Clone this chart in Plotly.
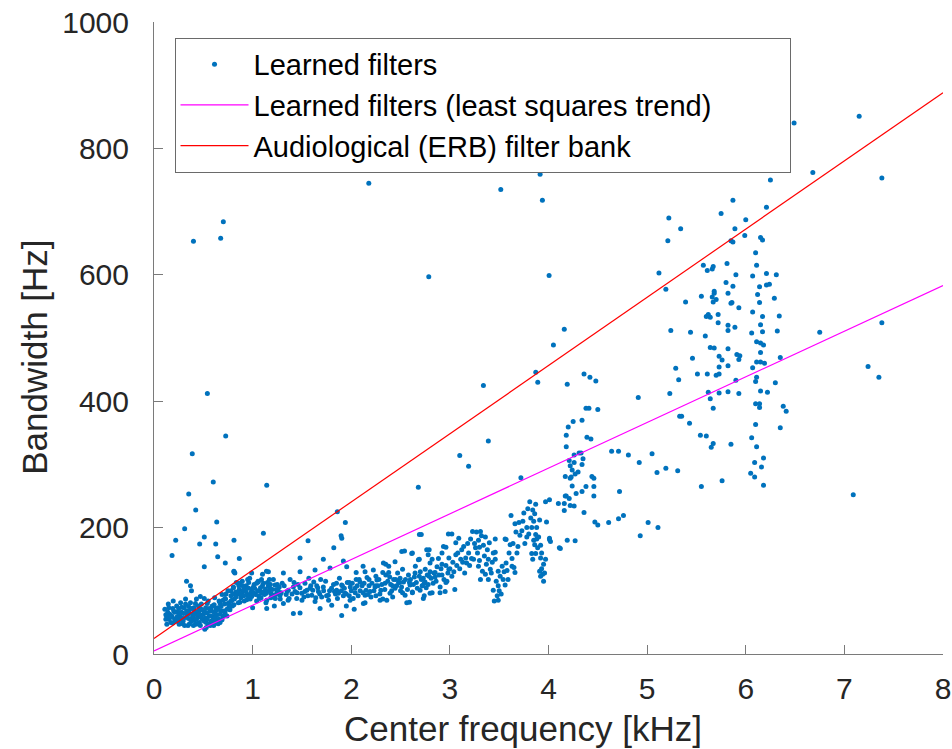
import plotly.graph_objects as go

# ---------------- data (center frequency in kHz, bandwidth in Hz) ----------------
band_low = [
    (0.11,71),(0.12,55),(0.13,47),(0.145,79),(0.16,63),(0.17,50),(0.195,84),(0.20,68),(0.21,55),(0.23,76),
    (0.245,60),(0.255,47),(0.27,81),(0.28,66),(0.295,52),(0.305,73),(0.32,87),(0.33,58),(0.345,45),(0.355,68),
    (0.37,81),(0.38,52),(0.395,63),(0.405,73),(0.425,47),(0.43,87),(0.445,58),(0.455,68),(0.47,45),(0.48,79),
    (0.49,55),(0.50,63),(0.515,39),(0.525,73),(0.53,50),(0.55,84),(0.56,60),(0.57,68),(0.58,52),(0.59,76),
    (0.605,45),(0.615,89),(0.625,63),(0.63,55),(0.65,73),(0.66,84),(0.67,50),(0.68,68),(0.69,94),(0.70,60),
    (0.715,79),(0.725,87),(0.74,71),(0.75,100),(0.765,81),(0.78,92),(0.795,76),(0.805,105),(0.815,87),(0.835,113),
    (0.84,94),(0.855,81),(0.865,102),(0.88,89),(0.895,115),(0.905,100),(0.915,84),(0.935,108),(0.945,94),(0.96,113),
    (0.975,87),(0.99,102),(1.00,73),(1.015,110),(1.03,94),(1.04,84),(1.055,115),(1.07,100),(1.085,89),(1.10,108),
    (1.12,94),(1.135,81),(1.15,113),(1.17,100),(1.185,89),(1.20,102),(1.22,76),(1.235,94),(1.25,110),(1.26,100),
    (0.33,115),(0.37,108),(0.38,100),(0.47,91),(0.51,88),(0.81,131),(0.82,128),(1.10,126),(1.14,131),(1.17,118),
    (0.87,82),(0.34,62),(0.36,48),(0.39,58),(0.41,53),(0.44,62),(0.46,50),(0.52,57),(0.54,65),(0.57,45),
    (0.60,58),(0.62,49),(0.64,62),(0.66,55),(0.47,72),(0.43,66),(0.40,45),(0.53,42),(0.58,70),(0.63,72),
    (0.35,75),(0.25,72),(0.18,60),(0.14,66),(0.22,52),(0.27,58),(0.30,64),(0.12,62),(0.19,72),(0.15,55),
    (0.24,67),(0.29,48),(0.32,79),(0.42,80),(0.45,76),(0.54,80),(0.61,78),(0.67,80),(0.72,65),(0.76,74),
    (0.70,85),(0.73,95),(0.78,100),(0.79,85),(0.83,98),(0.86,108),(0.89,96),(0.92,104),(0.95,118),(0.98,97),
    (1.02,104),(1.06,92),(1.09,118),(1.13,103),(1.16,108),(1.19,95),(1.23,88),(1.27,106),
]

band_mid = [
    (0.805,106),(0.855,112),(0.906,101),(0.957,91),(1.008,106),(1.058,114),(1.092,96),(1.143,85),(1.176,104),(1.227,109),
    (1.278,93),(1.312,80),(1.362,101),(1.413,106),(1.447,88),(1.498,96),(1.531,112),(1.582,104),(1.633,83),(1.667,99),
    (1.717,106),(1.768,93),(1.802,77),(1.852,101),(1.903,109),(1.937,96),(1.988,85),(2.038,104),(2.089,114),(2.14,93),
    (2.191,99),(2.241,106),(2.292,85),(2.343,112),(2.393,96),(2.444,104),(2.495,120),(2.546,93),(2.596,109),(2.647,128),
    (2.698,101),(2.748,114),(2.799,96),(2.85,122),(2.901,106),(2.952,99),
    (1.143,72),(1.413,64),(1.481,65),(1.684,72),(1.903,61),(2.123,80),(2.36,85),(2.563,81),(2.731,88),
    (0.99,128),(1.16,130),(1.312,128),(1.481,130),(1.633,133),(1.785,136),(1.954,138),(2.14,130),(2.224,133),(2.326,144),
    (2.444,146),(2.512,162),(2.613,159),(2.765,165),(2.935,170),(2.681,149),(2.799,144),(2.884,151),(2.691,189),(2.985,190),
    (1.25,98),(1.30,112),(1.34,94),(1.38,118),(1.43,99),(1.46,110),(1.52,90),(1.55,101),(1.60,93),(1.62,114),
    (1.65,108),(1.70,90),(1.74,115),(1.78,100),(1.82,110),(1.86,88),(1.88,120),(1.92,92),(1.96,113),(2.00,100),
    (2.05,118),(2.07,92),(2.11,108),(2.16,121),(2.20,90),(2.26,117),(2.30,101),(2.35,125),(2.40,110),(2.42,90),
    (2.47,128),(2.50,100),(2.53,114),(2.58,125),(2.62,98),(2.66,113),(2.71,118),(2.76,105),(2.80,130),(2.83,112),
    (2.87,138),(2.92,125),(2.97,115),(1.05,100),(1.11,98),(1.21,118),(1.37,88),(1.57,120),(1.69,118),(1.84,95),
    (2.02,88),(2.18,108),(2.29,95),
]

band_dense = [
    (0.13,60),(0.15,73),(0.17,58),(0.19,49),(0.21,66),(0.23,58),(0.25,53),(0.26,64),(0.28,74),(0.30,56),
    (0.31,45),(0.33,68),(0.35,56),(0.36,64),(0.38,72),(0.40,60),(0.41,68),(0.43,55),(0.44,48),(0.46,63),
    (0.48,58),(0.49,70),(0.51,52),(0.52,66),(0.54,55),(0.55,47),(0.56,72),(0.58,60),(0.59,51),(0.61,66),
    (0.62,57),(0.64,70),(0.65,48),(0.67,63),(0.68,75),(0.69,54),(0.71,68),(0.72,88),(0.74,60),(0.75,80),
    (0.77,70),(0.78,84),(0.80,95),(0.81,78),(0.83,90),(0.85,98),(0.87,112),(0.88,95),(0.90,108),(0.91,92),
    (0.93,99),(0.94,86),(0.96,104),(0.97,120),(0.99,91),(1.01,97),(1.04,112),(1.07,88),(1.08,105),(1.11,112),
    (1.14,96),(1.18,110),(1.21,93),(1.24,102),(1.28,87),(1.29,97),(1.32,108),(1.35,99),(1.36,85),(1.40,95),
    (1.42,113),(1.45,97),(1.48,105),(1.50,85),(1.53,99),(1.56,92),(1.59,108),(1.61,101),(1.64,89),(1.66,105),
    (1.68,95),(1.72,100),(1.75,92),(1.77,85),(1.80,104),(1.83,99),(1.85,112),(1.87,96),(1.90,100),(1.93,104),
    (1.95,95),(1.99,106),(2.01,112),(2.04,97),(2.06,108),(2.09,100),(2.13,112),(2.15,101),(2.17,94),(2.21,112),
    (2.23,100),(2.27,108),(2.28,118),(2.31,110),(2.34,102),(2.37,115),(2.39,122),(2.41,100),(2.43,118),(2.46,108),
    (2.48,113),(2.51,106),(2.55,118),(2.57,102),(2.60,118),(2.63,110),(2.64,122),(2.67,104),(2.70,130),(2.73,120),
    (2.74,112),(2.77,125),(2.78,110),(2.81,120),(2.84,128),(2.86,115),(2.89,125),(2.91,135),(2.94,118),(2.96,140),
    (2.98,128),(3.00,135),(3.03,145),(3.04,130),(3.07,140),(3.08,160),(3.10,135),(3.13,145),(3.14,170),(3.15,128),
    (3.18,175),(3.20,140),(3.21,182),(3.24,150),(3.25,175),(3.28,160),(3.29,180),(3.30,148),(3.34,172),(3.35,155),
    (3.37,142),(3.40,176),(3.42,128),(3.43,145),(3.47,115),(3.50,100),(3.52,95),(3.55,130),(3.60,160),(3.64,175),
    (3.68,160),(3.73,195),(3.74,210),(3.76,175),(3.79,230),(3.80,190),(3.82,215),(3.84,228),(3.85,180),(3.88,200),
    (3.89,168),(3.90,185),(3.93,135),(3.93,160),(3.96,128),(3.97,150),
]

band_upper = [
    (1.91,108),(1.98,113),(2.05,129),(2.12,139),(2.18,118),(2.25,108),(2.32,129),(2.38,139),(2.45,118),(2.52,134),
    (2.59,113),(2.65,139),(2.69,123),(2.62,97),(2.74,92),(2.52,97),(2.42,108),(2.25,92),(2.12,97),(1.98,92),
    (1.95,76),(2.03,71),(2.14,81),(2.32,87),(2.59,82),(2.69,150),(2.54,163),(2.62,160),(2.35,142),(2.38,129),
    (2.49,113),(2.72,108),(2.25,123),(2.08,118),
    (3.02,190),(3.09,183),(3.06,176),(2.96,169),(2.92,160),(2.99,152),(3.06,157),(3.11,150),(3.12,165),(2.92,142),
    (2.99,134),(3.02,123),(2.96,113),(2.90,97),(3.05,102),(2.85,129),(2.79,165),(2.78,157),(2.82,150),(2.75,134),
    (2.79,123),(2.72,108),(2.82,97),
    (3.23,194),(3.27,193),(3.31,194),(3.32,187),(3.36,185),(3.46,182),(3.57,181),(3.26,168),(3.30,169),(3.38,165),
    (3.46,161),(3.19,160),(3.16,152),(3.17,144),(3.22,151),(3.29,139),(3.33,131),(3.39,150),(3.41,134),(3.36,126),
    (3.31,118),(3.39,118),
    (3.44,160),(3.46,150),(3.49,131),(3.51,123),(3.54,118),(3.49,108),(3.44,101),(3.48,92),(3.49,85),(3.45,84),
    (3.56,109),(3.59,118),(3.58,132),(3.53,139),(3.65,137),(3.66,129),(3.63,151),(3.57,144),(3.63,139),
    (3.81,241),(3.87,237),(3.97,241),(4.01,244),(4.10,238),(3.62,219),(3.75,223),(3.86,222),(3.66,206),(3.70,208),
    (3.78,200),(3.85,210),(3.91,212),(3.83,200),(3.67,193),(3.71,188),(3.78,185),(3.87,189),(3.56,182),(3.61,173),
    (3.69,170),(3.86,173),(3.88,182),(3.92,172),(4.01,181),(4.11,168),(3.83,159),(3.87,159),(3.92,152),(3.84,150),
    (3.95,142),(3.91,131),(3.94,126),(3.92,123),(3.95,115),
    (3.39,337),(3.10,314),(3.19,297),(2.68,264),(2.71,189),(3.72,279),
]

cloud_4k = [
    (4.05,489),(4.36,443),(4.42,438),(4.48,432),(4.19,427),(4.38,389),(4.41,389),(4.50,387),(4.25,368),(4.34,370),
    (4.20,359),(4.18,346),(4.39,343),(4.43,340),(4.18,328),(4.26,315),(4.31,318),(4.33,318),(4.35,309),(4.21,306),
    (4.26,303),(4.34,300),(4.22,298),(4.24,291),(4.30,288),(4.27,285),(4.17,281),(4.23,280),(4.22,278),(4.44,281),
    (4.46,278),(4.24,266),(4.38,265),(4.46,265),(4.34,257),(4.28,254),(4.46,250),(4.17,250),(4.18,250),(4.21,246),
    (4.16,238),(4.22,235),(4.26,234),(4.16,227),(4.36,224),(4.72,257),(3.98,209),(4.47,209),(4.50,204),(4.61,208),
    (4.71,214),(4.76,219),(5.01,208),(5.11,200),(4.93,187),(4.01,183),(4.02,178),(4.19,180),(4.27,179),(4.12,167),
    (4.64,321),(4.71,321),(4.81,315),(4.92,303),(5.05,317),(5.19,294),(5.10,287),(5.31,290),(4.91,406),(5.23,412),
    (5.29,452),(5.32,434),(5.33,376),(4.16,514),
]

cloud_6k = [
    (6.49,840),(5.67,772),(5.74,774),(6.25,750),(5.87,718),(5.22,690),(5.75,697),(6.21,707),(5.34,673),(6.00,687),
    (5.89,673),(5.21,654),(5.99,662),(5.85,654),(5.87,652),(6.15,659),(6.17,655),(6.10,635),(5.12,603),(5.57,615),
    (5.61,607),(5.66,609),(5.67,613),(5.81,618),(5.90,600),(6.11,615),(6.07,598),(6.21,602),(6.31,600),(5.19,577),
    (5.39,557),(5.55,566),(5.66,565),(5.68,574),(5.68,571),(5.70,561),(5.67,557),(5.80,588),(5.82,571),(5.87,582),
    (6.14,581),(6.12,569),(6.14,556),(6.21,584),(6.24,585),(6.29,563),(5.85,555),(5.86,556),(5.93,548),(5.60,534),
    (5.62,537),(5.64,533),(5.72,537),(6.07,541),(6.17,534),(6.34,535),(5.24,512),(5.44,509),(5.72,524),(5.82,520),
    (5.82,512),(5.89,517),(6.15,521),(6.17,510),(6.32,511),(5.59,503),(6.06,508),(6.11,494),(6.15,492),(6.18,489),
    (5.64,485),(5.68,484),(5.82,483),(6.15,477),(5.73,471),(5.76,465),(5.91,474),(5.94,472),(5.93,466),(5.46,468),
    (6.11,462),(6.15,462),(6.19,460),(6.35,469),(5.73,454),(5.82,456),(6.07,453),(5.51,443),(5.61,443),(5.70,441),
    (5.73,443),(6.11,438),(6.10,431),(5.90,433),(6.30,429),(5.62,414),(5.64,404),(5.73,413),(5.82,415),(5.93,412),
    (6.15,416),(6.22,414),(5.67,389),(6.10,396),(6.14,396),(6.14,390),(6.38,392),(6.41,384),(5.35,376),(5.43,365),
    (6.10,363),(6.35,358),(5.54,346),(5.60,345),(5.67,333),(5.65,327),(5.85,332),(6.06,342),(6.11,328),(6.09,303),
    (6.18,310),(6.16,296),(5.76,274),(6.05,286),(6.09,280),(5.55,265),(6.18,267),
]

outliers = [
    (0.40,653),(0.676,658),(0.703,684),(2.178,745),(2.786,597),(3.516,735),(3.915,759),(3.938,718),(4.006,599),
    (0.541,412),(0.727,345),(3.34,425),(3.871,446),(3.891,430),(0.388,317),(0.601,272),(1.143,267),(0.352,253),
    (0.423,228),(0.636,209),(0.311,198),(1.109,191),(0.22,180),(0.811,180),(1.562,179),(0.51,185),(0.463,174),
    (0.626,174),(0.183,156),(0.646,154),(0.865,151),(0.723,144),(0.51,138),(1.859,225),(1.94,208),(1.897,187),
    (1.904,183),(1.823,168),(1.481,152),(1.717,150),(1.92,147),(0.811,130),
    (7.15,851),(6.68,762),(7.38,753),(7.38,524),(6.75,509),(7.24,455),(7.35,438),(7.09,252),(4.74,780),
]

trend_freq = [0, 8]
trend_bw = [5, 583]
erb_freq = [0, 8]
erb_bw = [24.7, 888.2]

x_ticks = [0, 1, 2, 3, 4, 5, 6, 7, 8]
y_ticks = [0, 200, 400, 600, 800, 1000]

legend_names = ["Learned filters",
                "Learned filters (least squares trend)",
                "Audiological (ERB) filter bank"]
x_title = "Center frequency [kHz]"
y_title = "Bandwidth [Hz]"

# ---------------- figure ----------------
learned = band_low + band_mid + band_dense + band_upper + cloud_4k + cloud_6k + outliers
lf = [p[0] for p in learned]
lb = [p[1] for p in learned]

FONT = "Liberation Sans, Arial, Helvetica, sans-serif"
AXC = "#7a7a7a"
TXT = "#262626"
PAD = "\u00a0" * 9  # extra right padding inside the legend box

fig = go.Figure()
fig.add_trace(go.Scatter(x=lf, y=lb, mode="markers", name=legend_names[0],
                         marker=dict(color="#0072BD", size=5, line=dict(width=0))))
fig.add_trace(go.Scatter(x=trend_freq, y=trend_bw, mode="lines",
                         name=legend_names[1] + PAD,
                         line=dict(color="#FF00FF", width=1.2)))
fig.add_trace(go.Scatter(x=erb_freq, y=erb_bw, mode="lines",
                         name=legend_names[2],
                         line=dict(color="#FF0000", width=1.2)))

fig.update_layout(
    width=952, height=749,
    margin=dict(l=154, r=9, t=22, b=95, autoexpand=False),
    paper_bgcolor="white", plot_bgcolor="white",
    font=dict(family=FONT, color=TXT),
    showlegend=True,
    legend=dict(x=0.026, y=0.975, xanchor="left", yanchor="top",
                bgcolor="white", bordercolor="#6a6a6a", borderwidth=1,
                font=dict(size=29, family=FONT, color="black"),
                itemwidth=68, tracegroupgap=0),
    annotations=[
        dict(text=x_title, xref="paper", yref="paper", x=0.468, y=-0.118,
             xanchor="center", yanchor="middle", showarrow=False,
             font=dict(size=35, family=FONT, color=TXT)),
        dict(text=y_title, xref="paper", yref="paper", x=-0.151, y=0.47,
             xanchor="center", yanchor="middle", showarrow=False, textangle=-90,
             font=dict(size=35, family=FONT, color=TXT)),
    ],
)
fig.update_xaxes(range=[0, 8], tickvals=x_ticks, ticks="inside", ticklen=9,
                 tickcolor=AXC, showline=True, linecolor=AXC, linewidth=1,
                 mirror=False, showgrid=False, zeroline=False,
                 tickfont=dict(size=30, family=FONT, color=TXT),
                 ticklabelstandoff=8)
fig.update_yaxes(range=[0, 1000], tickvals=y_ticks, ticks="inside", ticklen=9,
                 tickcolor=AXC, showline=True, linecolor=AXC, linewidth=1,
                 mirror=False, showgrid=False, zeroline=False,
                 tickfont=dict(size=30, family=FONT, color=TXT),
                 ticklabelstandoff=18)

fig.write_html("out.html")
